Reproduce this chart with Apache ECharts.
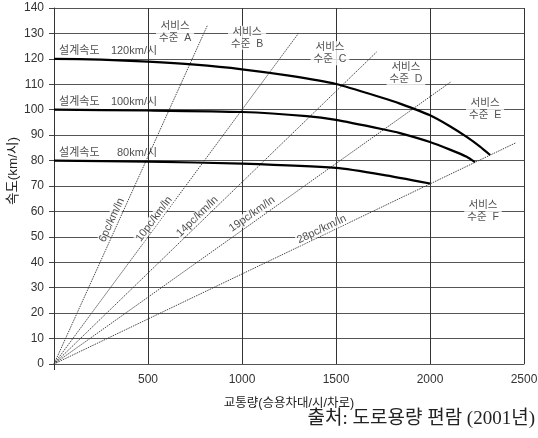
<!DOCTYPE html>
<html>
<head>
<meta charset="utf-8">
<script src="https://cdn.jsdelivr.net/npm/echarts@6/dist/echarts.min.js"></script>
<style>
html,body{margin:0;padding:0;background:#fff;}
#chart{width:538px;height:438px;}
</style>
</head>
<body>
<div id="chart"></div>
<script>
// ---- data ----
const xTicks = [0, 500, 1000, 1500, 2000, 2500];
const yTicks = [0, 10, 20, 30, 40, 50, 60, 70, 80, 90, 100, 110, 120, 130, 140];

// speed-flow curves [flow, speed]
const curve120 = [[0,120],[250,119.7],[500,118.9],[750,117.7],[1000,115.9],[1250,113.4],[1500,110.1],[1750,104.6],[1840,102.4],[2000,97.8],[2106,93.5],[2195,89.3],[2266,85.5],[2320,82.2]];
const curve100 = [[0,100],[500,99.7],[1000,99.1],[1344,97.5],[1500,96.0],[1750,92.3],[1840,90.8],[2000,87.3],[2106,84.3],[2195,81.5],[2239,79.4]];
const curve80  = [[0,80],[500,79.6],[1000,78.8],[1500,77.1],[1750,74.4],[2000,71.0]];
const curveNames = ['120km/시', '100km/시', '80km/시'];

// density rays [start, end]
const ray6  = [[0,0],[815,133]];
const ray10 = [[0,0],[1300,130]];
const ray14 = [[0,0],[1716,122.7]];
const ray19 = [[0,0],[2112,111]];
const ray28 = [[0,0],[2457,87]];
const rayNames = ['6pc/km/ln', '10pc/km/ln', '14pc/km/ln', '19pc/km/ln', '28pc/km/ln'];

const levelNames = ['A', 'B', 'C', 'D', 'E', 'F'];
const designPrefix = '설계속도';
const xAxisTitle = '교통량(승용차대/시/차로)';
const yAxisTitle = '속도(km/시)';
const sourceText = '출처: 도로용량 편람 (2001년)';

// ---- annotation anchors (layout) ----
const rayLabelAnchors = [[307,56.6],[532,57.0],[762,58.0],[1053,58.9],[1424,53.0]];
const rayLabelAngles = [65.6, 53.5, 44, 35.4, 25.5];
const levelAnchors = [[644,130.4],[1027,128.3],[1468,122.2],[1872,114.3],[2293,100.4],[2282,60.0]];
const designAnchors = [[27,123],[27,103],[27,83]];

const FONT = '"Liberation Sans", Arial, "Noto Sans CJK KR", sans-serif';
const chart = echarts.init(document.getElementById('chart'));

const rays = [ray6, ray10, ray14, ray19, ray28];
const curves = [curve120, curve100, curve80];

const series = [];
rays.forEach((r) => {
  series.push({
    type: 'line', data: r, symbol: 'none', silent: true, z: 3,
    lineStyle: { color: '#333', width: 0.9, type: [1.5, 1] }
  });
});
curves.forEach((c) => {
  series.push({
    type: 'line', data: c, symbol: 'none', smooth: 0.2, silent: true, z: 4,
    lineStyle: { color: '#000', width: 2.2 }
  });
});
// density labels
series.push({
  type: 'scatter', symbolSize: 0, silent: true, z: 6,
  data: rayLabelAnchors.map((p, i) => ({
    value: p,
    label: { show: true, position: 'inside', formatter: rayNames[i], rotate: rayLabelAngles[i],
      fontSize: 11, fontFamily: FONT, color: '#222', backgroundColor: '#fff', padding: [0, 1] }
  }))
});
// service level labels
series.push({
  type: 'scatter', symbolSize: 0, silent: true, z: 6,
  data: levelAnchors.map((p, i) => ({
    value: p,
    label: { show: true, position: 'inside', formatter: '서비스\n수준  ' + levelNames[i],
      fontSize: 10.5, lineHeight: 12, fontFamily: FONT, color: '#222', align: 'center',
      backgroundColor: '#fff', padding: [0, 3] }
  }))
});
// design speed labels
series.push({
  type: 'scatter', symbolSize: 0, silent: true, z: 6,
  data: designAnchors.map((p, i) => ({
    value: p,
    label: { show: true, position: 'right', distance: 0,
      formatter: '{a|' + designPrefix + '}{b|' + curveNames[i] + '}',
      rich: {
        a: { fontSize: 11, fontFamily: FONT, color: '#222', width: 50 },
        b: { fontSize: 11, fontFamily: FONT, color: '#222', width: 48, align: 'right' }
      } }
  }))
});

chart.setOption({
  animation: false,
  backgroundColor: '#fff',
  grid: { left: 54, right: 14, top: 8, bottom: 74, containLabel: false, outerBoundsMode: 'none' },
  xAxis: [{
    type: 'value', min: xTicks[0], max: xTicks[xTicks.length - 1], interval: 500,
    name: xAxisTitle, nameLocation: 'middle', nameGap: 33,
    nameTextStyle: { fontSize: 12.5, fontFamily: FONT, color: '#222' },
    axisLine: { show: true, lineStyle: { color: '#555', width: 1 } },
    axisTick: { show: false },
    axisLabel: { fontSize: 12, fontFamily: FONT, color: '#333', margin: 10,
      formatter: (v) => (v === 0 ? '' : String(v)) },
    splitLine: { show: true, lineStyle: { color: '#333', width: 1 } }
  }, {
    type: 'value', min: xTicks[0], max: xTicks[xTicks.length - 1], position: 'bottom',
    axisLine: { show: false },
    axisTick: { show: true, customValues: [0], length: 6, lineStyle: { color: '#333' } },
    axisLabel: { show: false },
    splitLine: { show: false }
  }],
  yAxis: {
    type: 'value', min: yTicks[0], max: yTicks[yTicks.length - 1], interval: 10,
    axisLine: { show: true, lineStyle: { color: '#333', width: 1 } },
    axisTick: { show: true, length: 5, lineStyle: { color: '#444' } },
    axisLabel: { fontSize: 12, fontFamily: FONT, color: '#333', margin: 10 },
    splitLine: { show: true, lineStyle: { color: '#555', width: 1 } }
  },
  graphic: [{
    type: 'text', x: 13, y: 171, rotation: Math.PI / 2,
    style: { text: yAxisTitle, fontSize: 13.5, fontFamily: FONT, fill: '#222', align: 'center', verticalAlign: 'middle' }
  }, {
    type: 'text', x: 535, y: 419,
    style: { text: sourceText, font: '19px "Liberation Serif", "DejaVu Serif", "Noto Sans CJK KR", serif', fill: '#222',
      align: 'right', verticalAlign: 'middle' }
  }],
  series: series
});
</script>
</body>
</html>
